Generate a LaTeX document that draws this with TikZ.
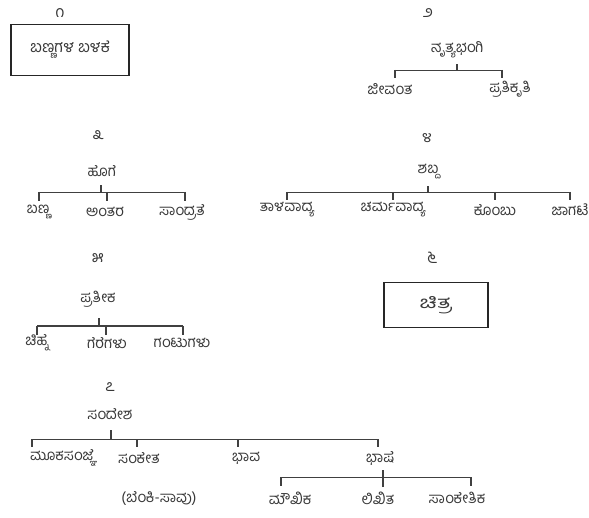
\documentclass[tikz,border=0pt]{standalone}
\usepackage{fontspec}
\usepackage{graphicx}
\newfontfamily\kn[Script=Kannada]{Hind Mysuru}
\begin{document}
\begin{tikzpicture}[x=1pt,y=-1pt,
  lbl/.style={font=\kn\fontsize{15}{16}\selectfont, text=black!78, inner sep=1pt},
  num/.style={font=\kn\fontsize{16}{17}\selectfont, text=black!78, inner sep=1pt},
  boxed/.style={font=\kn\fontsize{16}{18}\selectfont, text=black!78, draw=black!85, line width=1.3pt, inner sep=0pt},
  bus/.style={draw=black!75, line width=0.8pt},
  tickline/.style={draw=black!75, line width=1.1pt}]
\useasboundingbox (0,0) rectangle (589,518);

% tree 1
\node[num] (n1) at (60,13) {೧};
\node[boxed, minimum width=118pt, minimum height=51pt] (b1) at (70,50) {ಬಣ್ಣಗಳ ಬಳಕೆ};

% tree 2
\node[num] (n2) at (428,13) {೨};
\node[lbl] (p2) at (457,50) {ನೃತ್ಯಭಂಗಿ};
\coordinate (s2) at (457,70);
\coordinate (l2a) at (395,70);
\coordinate (l2b) at (502,70);
\coordinate (e2a) at (395,78);
\coordinate (e2b) at (502,78);
\node[lbl] (c21) at (390,89) {ಜೀವಂತ};
\node[lbl] (c22) at (510,89) {ಪ್ರತಿಕೃತಿ};
\draw[bus] (l2a) -- (l2b);
\draw[tickline] (s2) -- ++(0,-6);
\draw[tickline] (l2a) -- (e2a);
\draw[tickline] (l2b) -- (e2b);

% tree 3
\node[num] (n3) at (98,135) {೩};
\node[lbl] (p3) at (102,171) {ಹೊಗೆ};
\coordinate (s3) at (101,192);
\coordinate (l3a) at (39,192);
\coordinate (l3m) at (107,192);
\coordinate (l3b) at (185,192);
\coordinate (e3a) at (39,201);
\coordinate (e3m) at (107,201);
\coordinate (e3b) at (185,201);
\node[lbl] (c31) at (38,212) {ಬಣ್ಣ};
\node[lbl] (c32) at (105,212) {ಅಂತರ};
\node[lbl] (c33) at (182,212) {ಸಾಂದ್ರತೆ};
\draw[bus] (l3a) -- (l3b);
\draw[tickline] (s3) -- ++(0,-7);
\draw[tickline] (l3a) -- (e3a);
\draw[tickline] (l3m) -- (e3m);
\draw[tickline] (l3b) -- (e3b);

% tree 4
\node[num] (n4) at (427,138) {೪};
\node[lbl] (p4) at (428,172) {ಶಬ್ದ};
\coordinate (s4) at (428,192);
\coordinate (l4a) at (287,192);
\coordinate (l4b) at (393,192);
\coordinate (l4c) at (495,192);
\coordinate (l4d) at (570,192);
\coordinate (e4a) at (287,200);
\coordinate (e4b) at (393,200);
\coordinate (e4c) at (495,200);
\coordinate (e4d) at (570,200);
\node[lbl] (c41) at (287,210) {ತಾಳವಾದ್ಯ};
\node[lbl] (c42) at (393,210) {ಚರ್ಮವಾದ್ಯ};
\node[lbl] (c43) at (495,210) {ಕೊಂಬು};
\node[lbl] (c44) at (570,210) {ಜಾಗಟೆ};
\draw[bus] (l4a) -- (l4d);
\draw[tickline] (s4) -- ++(0,-6);
\draw[tickline] (l4a) -- (e4a);
\draw[tickline] (l4b) -- (e4b);
\draw[tickline] (l4c) -- (e4c);
\draw[tickline] (l4d) -- (e4d);

% tree 5
\node[num] (n5) at (98,258) {೫};
\node[lbl] (p5) at (98,299) {ಪ್ರತೀಕ};
\coordinate (s5) at (99,326);
\coordinate (l5a) at (37,326);
\coordinate (l5m) at (106,326);
\coordinate (l5b) at (183,326);
\coordinate (e5a) at (37,335);
\coordinate (e5m) at (106,335);
\coordinate (e5b) at (183,335);
\node[lbl] (c51) at (37,343) {ಚಿಹ್ನೆ};
\node[lbl] (c52) at (107,343) {ಗೆರೆಗಳು};
\node[lbl] (c53) at (182,343) {ಗಂಟುಗಳು};
\draw[bus, line width=1.1pt] (l5a) -- (l5b);
\draw[tickline] (s5) -- ++(0,-8);
\draw[tickline] (l5a) -- (e5a);
\draw[tickline] (l5m) -- (e5m);
\draw[tickline] (l5b) -- (e5b);

% tree 6
\node[num] (n6) at (432,258) {೬};
\node[boxed, minimum width=104pt, minimum height=45pt] (b6) at (436,305) {\scalebox{1.45}[1.05]{ಚಿತ್ರ}};

% tree 7
\node[num] (n7) at (110,387) {೭};
\node[lbl] (p7) at (110,414) {ಸಂದೇಶ};
\coordinate (s7) at (111,439);
\coordinate (l7a) at (32,439);
\coordinate (l7b) at (137,439);
\coordinate (l7c) at (238,439);
\coordinate (l7d) at (378,439);
\coordinate (e7a) at (32,447);
\coordinate (e7b) at (137,447);
\coordinate (e7c) at (238,447);
\coordinate (e7d) at (378,447);
\node[lbl] (c71) at (62,458) {ಮೂಕಸಂಜ್ಞೆ};
\node[lbl] (c72) at (139,458) {ಸಂಕೇತ};
\node[lbl] (c73) at (246,458) {ಭಾವ};
\node[lbl] (c74) at (380,458) {ಭಾಷೆ};
\node[lbl] (c72x) at (159,498) {(ಬೆಂಕಿ-ಸಾವು)};
\draw[bus] (l7a) -- (l7d);
\draw[tickline] (s7) -- ++(0,-9);
\draw[tickline] (l7a) -- (e7a);
\draw[tickline] (l7b) -- (e7b);
\draw[tickline] (l7c) -- (e7c);
\draw[tickline] (l7d) -- (e7d);

% subtree of c74
\coordinate (l8a) at (281,477);
\coordinate (l8b) at (471,477);
\coordinate (s8) at (383,487);
\coordinate (e8a) at (281,486);
\coordinate (e8b) at (471,486);
\node[lbl] (c81) at (290,498) {ಮೌಖಿಕ};
\node[lbl] (c82) at (378,498) {ಲಿಖಿತ};
\node[lbl] (c83) at (457,498) {ಸಾಂಕೇತಿಕ};
\draw[bus] (l8a) -- (l8b);
\draw[tickline] (s8) -- ++(0,-17);
\draw[tickline] (l8a) -- (e8a);
\draw[tickline] (l8b) -- (e8b);
\end{tikzpicture}
\end{document}
